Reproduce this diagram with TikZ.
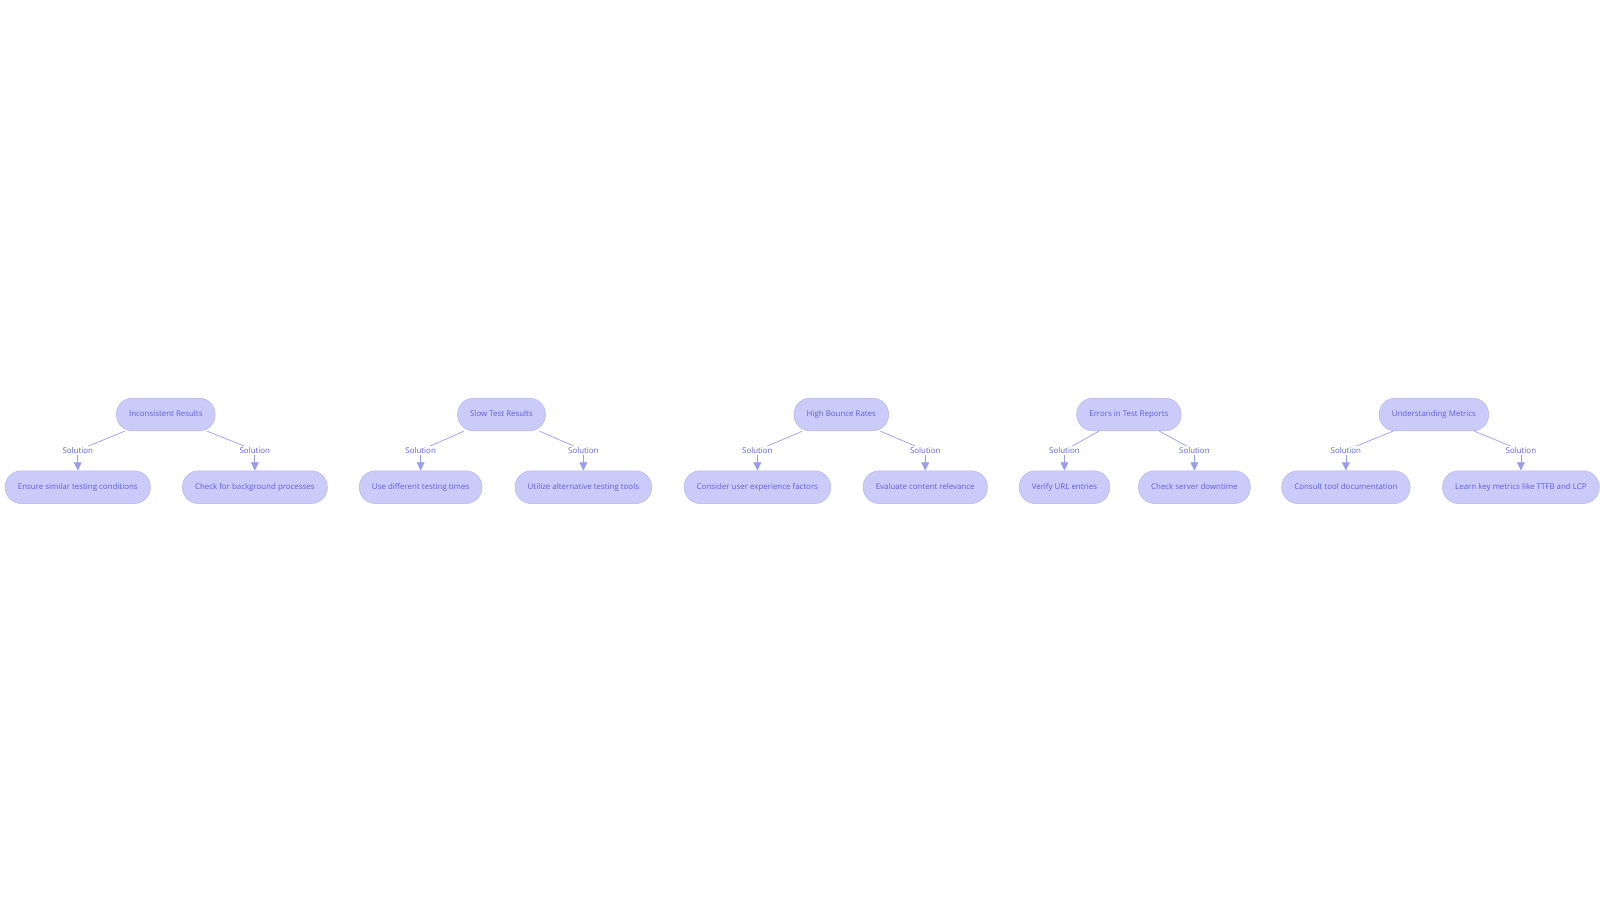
\documentclass[tikz,border=0pt]{standalone}
\usepackage{fontspec}
\setmainfont{Open Sans}
\usepackage{xcolor}
\usetikzlibrary{arrows.meta, positioning}
\definecolor{boxfill}{HTML}{CBCBFA}
\definecolor{boxline}{HTML}{B4B4F0}
\definecolor{boxtext}{HTML}{5E5EDC}
\definecolor{linkline}{HTML}{9C9CEE}

\begin{document}
\begin{tikzpicture}[x=0.05cm, y=-0.05cm,
    problem/.style={draw=boxline, fill=boxfill, text=boxtext, rounded corners=0.79cm,
      minimum height=1.6cm, inner xsep=0.62cm, text height=1.6ex, text depth=0.4ex,
      line width=0.7pt, font=\fontsize{11}{13}\selectfont},
    answer/.style={problem},
    sol/.style={text=boxtext, inner sep=1.5pt, font=\fontsize{11}{13}\selectfont},
    link/.style={draw=linkline, line width=1pt},
    linkarrow/.style={link, -{Triangle[length=0.4cm, width=0.38cm]}}]
      \useasboundingbox (0,0) rectangle (1563.3,882.3);

      % problems
      \node[problem] (incons) at (162,405) {Inconsistent Results};
      \node[problem] (slow) at (490,405) {Slow Test Results};
      \node[problem] (bounce) at (822,405) {High Bounce Rates};
      \node[problem] (errors) at (1103,405) {Errors in Test Reports};
      \node[problem] (metrics) at (1401,405) {Understanding Metrics};

      % solutions
      \node[answer] (ensure) at (76,476) {Ensure similar testing conditions};
      \node[answer] (backgr) at (249,476) {Check for background processes};
      \node[answer] (times) at (411,476) {Use different testing times};
      \node[answer] (tools) at (570,476) {Utilize alternative testing tools};
      \node[answer] (ux) at (740,476) {Consider user experience factors};
      \node[answer] (content) at (904,476) {Evaluate content relevance};
      \node[answer] (url) at (1040,476) {Verify URL entries};
      \node[answer] (downtime) at (1167,476) {Check server downtime};
      \node[answer] (docs) at (1315,476) {Consult tool documentation};
      \node[answer] (learn) at (1486,476) {Learn key metrics like TTFB and LCP};

      % labels
      \node[sol] (s1a) at (76,440) {Solution};
      \node[sol] (s1b) at (249,440) {Solution};
      \node[sol] (s2a) at (411,440) {Solution};
      \node[sol] (s2b) at (570,440) {Solution};
      \node[sol] (s3a) at (740,440) {Solution};
      \node[sol] (s3b) at (904,440) {Solution};
      \node[sol] (s4a) at (1040,440) {Solution};
      \node[sol] (s4b) at (1167,440) {Solution};
      \node[sol] (s5a) at (1315,440) {Solution};
      \node[sol] (s5b) at (1486,440) {Solution};

      \draw[link] (incons) -- (s1a);
      \draw[link] (incons) -- (s1b);
      \draw[link] (slow) -- (s2a);
      \draw[link] (slow) -- (s2b);
      \draw[link] (bounce) -- (s3a);
      \draw[link] (bounce) -- (s3b);
      \draw[link] (errors) -- (s4a);
      \draw[link] (errors) -- (s4b);
      \draw[link] (metrics) -- (s5a);
      \draw[link] (metrics) -- (s5b);

      \draw[linkarrow] (s1a) -- (ensure);
      \draw[linkarrow] (s1b) -- (backgr);
      \draw[linkarrow] (s2a) -- (times);
      \draw[linkarrow] (s2b) -- (tools);
      \draw[linkarrow] (s3a) -- (ux);
      \draw[linkarrow] (s3b) -- (content);
      \draw[linkarrow] (s4a) -- (url);
      \draw[linkarrow] (s4b) -- (downtime);
      \draw[linkarrow] (s5a) -- (docs);
      \draw[linkarrow] (s5b) -- (learn);
    \end{tikzpicture}
\end{document}
